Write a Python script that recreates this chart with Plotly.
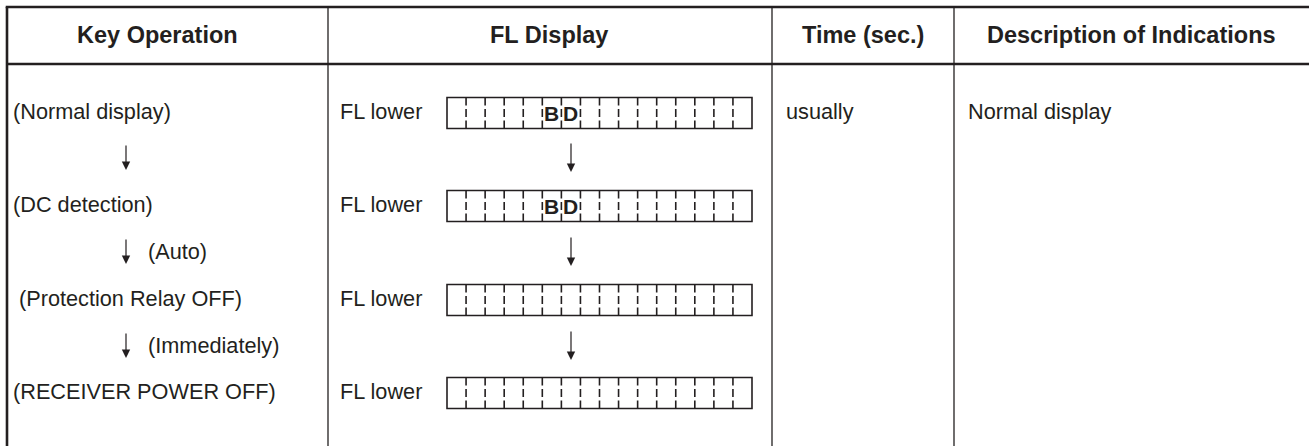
import plotly.graph_objects as go

# ---------------- data (text content of the table) ----------------
header_labels = ["Key Operation", "FL Display", "Time (sec.)", "Description of Indications"]
key_steps = ["(Normal display)", "(DC detection)", " (Protection Relay OFF)", "(RECEIVER POWER OFF)"]
key_transitions = ["", "(Auto)", "(Immediately)"]
fl_prefix = ["FL lower", "FL lower", "FL lower", "FL lower"]
fl_cell_chars = [{5: "B", 6: "D"}, {5: "B", 6: "D"}, {}, {}]
fl_cell_count = 16
time_texts = ["usually"]
desc_texts = ["Normal display"]

# ---------------- layout geometry (pixels of the page) ----------------
W, H = 1309, 446
INK = "#231f20"
FONT = "Liberation Sans, Arial, Helvetica, sans-serif"
left, top = 7, 7
header_bottom = 64
col_x = [328, 772, 954]
header_cx = [157, 549, 863, 1131]
header_cy = 35
row_y = [111, 204, 298, 391]
trans_y = [157, 251, 345]
key_text_x = [11, 11, 11, 11]
key_arrow_x = 126
key_note_x = 146
fl_label_x = 338
box_x0, box_x1 = 447, 752
box_h = 31
box_dy = 2
fl_arrow_x = 571
time_x = 784
desc_x = 966

fig = go.Figure()
shapes = []
ann = []

# table frame
shapes.append(dict(type="line", x0=left - 1.3, x1=W + 5, y0=top, y1=top, line=dict(color=INK, width=2.6)))
shapes.append(dict(type="line", x0=left, x1=left, y0=top, y1=H + 5, line=dict(color=INK, width=2.6)))
shapes.append(dict(type="line", x0=left, x1=W + 5, y0=header_bottom, y1=header_bottom, line=dict(color=INK, width=2.6)))
for cx in col_x:
    shapes.append(dict(type="line", x0=cx, x1=cx, y0=top, y1=H + 5, line=dict(color=INK, width=1.3)))

# headers
for lbl, cx in zip(header_labels, header_cx):
    ann.append(dict(x=cx, y=header_cy, text="<b>%s</b>" % lbl, showarrow=False,
                    xanchor="center", yanchor="middle",
                    font=dict(family=FONT, size=23.5, color=INK)))

# key operation column
for txt, x, y in zip(key_steps, key_text_x, row_y):
    ann.append(dict(x=x, y=y, text=txt.replace(" ", "&nbsp;", 1) if txt.startswith(" ") else txt,
                    showarrow=False, xanchor="left", yanchor="middle",
                    font=dict(family=FONT, size=21.7, color=INK)))
for note, y in zip(key_transitions, trans_y):
    ann.append(dict(x=key_arrow_x, y=y + 13, ax=key_arrow_x, ay=y - 13, xref="x", yref="y",
                    axref="x", ayref="y", text="", showarrow=True, arrowhead=2,
                    arrowsize=1.4, arrowwidth=1.2, arrowcolor=INK))
    if note:
        ann.append(dict(x=key_note_x, y=y, text=note, showarrow=False, xanchor="left",
                        yanchor="middle", font=dict(family=FONT, size=21.7, color=INK)))

# FL display column
cell_w = (box_x1 - box_x0) / fl_cell_count
for i, (lbl, y) in enumerate(zip(fl_prefix, row_y)):
    ann.append(dict(x=fl_label_x, y=y, text=lbl, showarrow=False, xanchor="left",
                    yanchor="middle", font=dict(family=FONT, size=21.7, color=INK)))
    yc = y + box_dy
    y0, y1 = yc - box_h / 2, yc + box_h / 2
    shapes.append(dict(type="rect", x0=box_x0, x1=box_x1, y0=y0, y1=y1,
                       line=dict(color=INK, width=1.6)))
    for k in range(1, fl_cell_count):
        xx = box_x0 + k * cell_w
        shapes.append(dict(type="line", x0=xx, x1=xx, y0=y0, y1=y1,
                           line=dict(color=INK, width=1.6, dash="8px,3.5px")))
    for k, ch in fl_cell_chars[i].items():
        ann.append(dict(x=box_x0 + (k + 0.5) * cell_w, y=yc, text="<b>%s</b>" % ch,
                        showarrow=False, xanchor="center", yanchor="middle",
                        font=dict(family=FONT, size=21, color=INK)))
for y in trans_y:
    ann.append(dict(x=fl_arrow_x, y=y + 15, ax=fl_arrow_x, ay=y - 15, xref="x", yref="y",
                    axref="x", ayref="y", text="", showarrow=True, arrowhead=2,
                    arrowsize=1.4, arrowwidth=1.2, arrowcolor=INK))

# time / description
for txt, y in zip(time_texts, row_y):
    ann.append(dict(x=time_x, y=y, text=txt, showarrow=False, xanchor="left", yanchor="middle",
                    font=dict(family=FONT, size=21.7, color=INK)))
for txt, y in zip(desc_texts, row_y):
    ann.append(dict(x=desc_x, y=y, text=txt, showarrow=False, xanchor="left", yanchor="middle",
                    font=dict(family=FONT, size=21.7, color=INK)))

fig.update_layout(
    width=W, height=H, margin=dict(l=0, r=0, t=0, b=0),
    paper_bgcolor="white", plot_bgcolor="white",
    xaxis=dict(range=[0, W], visible=False, fixedrange=True),
    yaxis=dict(range=[H, 0], visible=False, fixedrange=True),
    shapes=shapes, annotations=ann, showlegend=False,
)
fig.write_html(
    "out.html",
    config={"displayModeBar": False},
    post_script="document.body.style.margin='0';document.body.style.overflow='hidden';",
)
